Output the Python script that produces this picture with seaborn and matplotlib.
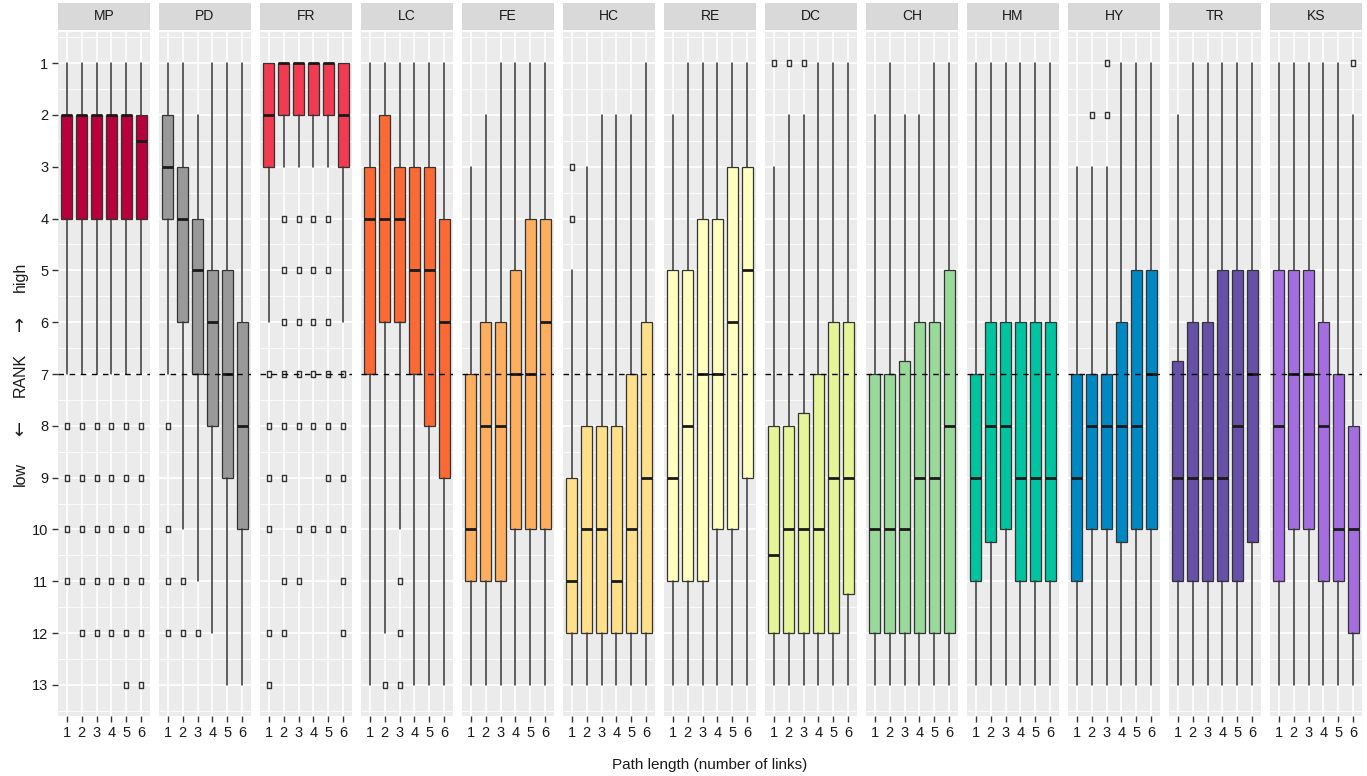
import matplotlib
matplotlib.use('Agg')
import matplotlib.pyplot as plt
import seaborn as sns
from matplotlib.patches import Rectangle

methods = ['MP', 'PD', 'FR', 'LC', 'FE', 'HC', 'RE', 'DC', 'CH', 'HM', 'HY', 'TR', 'KS']
path_lengths = [1, 2, 3, 4, 5, 6]
palette = ['#B8003C', '#999999', '#F23A50', '#FB6A35', '#FDAE5E', '#FEE08B', '#FFFFBF',
           '#E6F598', '#99D99A', '#00C4A0', '#0088C4', '#6650A8', '#A56EE0']

# rank values per method (rows) and path length (columns); rank 1 = best
box_top = [
    [2, 2, 2, 2, 2, 2],
    [2, 3, 4, 5, 5, 6],
    [1, 1, 1, 1, 1, 1],
    [3, 2, 3, 3, 3, 4],
    [7, 6, 6, 5, 4, 4],
    [9, 8, 8, 8, 7, 6],
    [5, 5, 4, 4, 3, 3],
    [8, 8, 7.75, 7, 6, 6],
    [7, 7, 6.75, 6, 6, 5],
    [7, 6, 6, 6, 6, 6],
    [7, 7, 7, 6, 5, 5],
    [6.75, 6, 6, 5, 5, 5],
    [5, 5, 5, 6, 7, 8],
]
box_bottom = [
    [4, 4, 4, 4, 4, 4],
    [4, 6, 7, 8, 9, 10],
    [3, 2, 2, 2, 2, 3],
    [7, 6, 6, 7, 8, 9],
    [11, 11, 11, 10, 10, 10],
    [12, 12, 12, 12, 12, 12],
    [11, 11, 11, 10, 10, 9],
    [12, 12, 12, 12, 12, 11.25],
    [12, 12, 12, 12, 12, 12],
    [11, 10.25, 10, 11, 11, 11],
    [11, 10, 10, 10.25, 10, 10],
    [11, 11, 11, 11, 11, 10.25],
    [11, 10, 10, 11, 11, 12],
]
medians = [
    [2, 2, 2, 2, 2, 2.5],
    [3, 4, 5, 6, 7, 8],
    [2, 1, 1, 1, 1, 2],
    [4, 4, 4, 5, 5, 6],
    [10, 8, 8, 7, 7, 6],
    [11, 10, 10, 11, 10, 9],
    [9, 8, 7, 7, 6, 5],
    [10.5, 10, 10, 10, 9, 9],
    [10, 10, 10, 9, 9, 8],
    [9, 8, 8, 9, 9, 9],
    [9, 8, 8, 8, 8, 7],
    [9, 9, 9, 9, 8, 7],
    [8, 7, 7, 8, 10, 10],
]
whisker_top = [
    [1, 1, 1, 1, 1, 1],
    [1, 1, 2, 1, 1, 1],
    [1, 1, 1, 1, 1, 1],
    [1, 1, 1, 1, 1, 1],
    [3, 2, 1, 1, 1, 1],
    [5, 3, 2, 2, 2, 1],
    [2, 1, 1, 1, 1, 1],
    [3, 2, 2, 1, 1, 1],
    [2, 1, 2, 2, 1, 1],
    [1, 1, 1, 1, 1, 1],
    [3, 3, 3, 1, 1, 1],
    [2, 1, 1, 1, 1, 1],
    [1, 1, 1, 1, 1, 2],
]
whisker_bottom = [
    [7, 7, 7, 7, 7, 7],
    [7, 10, 11, 12, 13, 13],
    [6, 3, 3, 3, 3, 6],
    [13, 12, 10, 13, 13, 13],
    [13, 13, 13, 13, 13, 13],
    [13, 13, 13, 13, 13, 13],
    [13, 13, 13, 13, 13, 13],
    [13, 13, 13, 13, 13, 13],
    [13, 13, 13, 13, 13, 13],
    [13, 13, 13, 13, 13, 13],
    [13, 13, 13, 13, 13, 13],
    [13, 13, 13, 13, 13, 13],
    [13, 13, 13, 13, 13, 13],
]
outliers = [
    [[8, 9, 10, 11], [8, 9, 10, 11, 12], [8, 9, 10, 11, 12], [8, 9, 10, 11, 12],
     [8, 9, 10, 11, 12, 13], [8, 9, 10, 11, 12, 13]],
    [[8, 10, 11, 12], [11, 12], [12], [], [], []],
    [[7, 8, 9, 10, 12, 13], [4, 5, 6, 7, 8, 9, 11, 12], [4, 5, 6, 7, 8, 10, 11],
     [4, 5, 6, 7, 8, 10], [4, 5, 6, 7, 8, 9, 10], [7, 8, 9, 10, 11, 12]],
    [[], [13], [11, 12, 13], [], [], []],
    [[], [], [], [], [], []],
    [[3, 4], [], [], [], [], []],
    [[], [], [], [], [], []],
    [[1], [1], [1], [], [], []],
    [[], [], [], [], [], []],
    [[], [], [], [], [], []],
    [[], [2], [1, 2], [], [], []],
    [[], [], [], [], [], []],
    [[], [], [], [], [], [1]],
]
cutoff_rank = 7

sns.set_theme(style='darkgrid')
plt.rcParams['font.family'] = ['Liberation Sans', 'DejaVu Sans']
plt.rcParams['axes.facecolor'] = '#EBEBEB'

W, H = 1367, 776
fig, axes = plt.subplots(1, len(methods), figsize=(W / 100, H / 100), dpi=100, sharey=True)
fig.subplots_adjust(left=58 / W, right=1362 / W, top=1 - 32 / H, bottom=1 - 716 / H, wspace=9 / 92)

edge = '#333333'
# small upright open rectangle, like the outlier marks in the reference
flier_marker = [(-0.35, -0.5), (0.35, -0.5), (0.35, 0.5), (-0.35, 0.5), (-0.35, -0.5)]
for i, ax in enumerate(axes):
    stats = []
    for j, pl in enumerate(path_lengths):
        stats.append(dict(med=medians[i][j], q1=box_top[i][j], q3=box_bottom[i][j],
                          whislo=whisker_top[i][j], whishi=whisker_bottom[i][j],
                          fliers=outliers[i][j]))
    ax.bxp(stats, positions=path_lengths, widths=0.75, patch_artist=True, showcaps=False,
           boxprops=dict(facecolor=palette[i], edgecolor=edge, linewidth=0.9),
           whiskerprops=dict(color=edge, linewidth=1.1),
           medianprops=dict(color='#1A1A1A', linewidth=2.0, solid_capstyle='butt'),
           flierprops=dict(marker=flier_marker, markersize=5, markerfacecolor='none',
                           markeredgecolor=edge, markeredgewidth=1.0),
           zorder=3)
    ax.axhline(cutoff_rank, color='black', linestyle=(0, (4, 4)), linewidth=1.0, zorder=5)

    ax.set_xlim(0.4, 6.6)
    ax.set_ylim(13.6, 0.4)
    ax.set_xticks(path_lengths)
    ax.set_xticklabels([str(p) for p in path_lengths])
    ax.set_yticks(range(1, 14))
    ax.set_yticks([k + 0.5 for k in range(0, 14)], minor=True)
    ax.grid(True, which='major', color='white', linewidth=1.2)
    ax.grid(True, which='minor', axis='y', color='white', linewidth=0.6)
    ax.grid(False, which='minor', axis='x')
    for s in ax.spines.values():
        s.set_visible(False)
    ax.tick_params(axis='both', which='major', length=4, width=1.0, color=edge,
                   labelsize=10.5, labelcolor='#1A1A1A', pad=3, bottom=True, left=(i == 0))
    ax.tick_params(axis='both', which='minor', length=0)
    ax.set_xlabel('')

    ax.add_patch(Rectangle((0, 1 + 2 / 684), 1, 27 / 684, transform=ax.transAxes,
                           clip_on=False, facecolor='#D9D9D9', edgecolor='none'))
    ax.text(0.5, 1 + 16 / 684, methods[i], transform=ax.transAxes, ha='center',
            va='center', fontsize=10, color='#1A1A1A')

fig.text(710 / W, 1 - 765 / H, 'Path length (number of links)', ha='center', va='center',
         fontsize=11, color='#1A1A1A')

# y-axis title "low <- RANK -> high", pieces placed along the left margin
ylab_parts = ['low', '\u2190', 'RANK', '\u2192', 'high']
ylab_pos = [474, 428, 375, 323, 277]
for part, ypix in zip(ylab_parts, ylab_pos):
    is_arrow = part in ('\u2190', '\u2192')
    fig.text(20 / W, 1 - ypix / H, part, rotation=90, ha='center', va='center',
             fontsize=13 if is_arrow else 11.5, color='#1A1A1A',
             family=['DejaVu Sans'] if is_arrow else ['Liberation Sans', 'DejaVu Sans'])

plt.savefig('out.png', dpi=100)
